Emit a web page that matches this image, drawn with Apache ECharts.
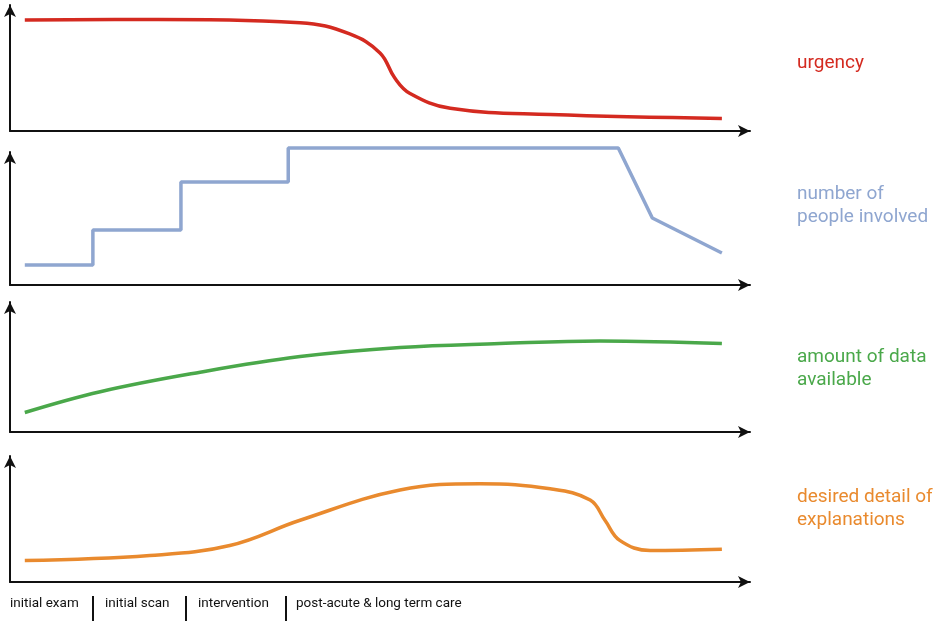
<!DOCTYPE html>
<html>
<head>
<meta charset="utf-8">
<script src="https://cdn.jsdelivr.net/npm/echarts@6/dist/echarts.min.js"></script>
<style>html,body{margin:0;padding:0;background:#fff}#main{width:944px;height:630px}</style>
</head>
<body>
<div id="main"></div>
<script>
// x positions run 0..100 along the time axis
let urgency = [[2, 88], [20, 88.5], [39.2, 86], [45.9, 77], [50, 62], [52, 42], [54, 30], [59.5, 18], [73, 13], [96.2, 10]];
let people = [[2, 16.5], [11.2, 16.5], [11.2, 45.5], [23.1, 45.5], [23.1, 85.2], [37.6, 85.2], [37.6, 113.3], [82.2, 113.3], [86.8, 55.4], [96.2, 26.5]];
let dataAvail = [[2, 15], [12.2, 31], [25.7, 46], [39.2, 58], [52.7, 65], [66.2, 68], [79.7, 70], [96.2, 68]];
let detail = [[2, 17], [18.9, 21], [29.7, 29], [39.2, 49], [52.7, 73], [63.5, 78], [73, 74], [78.4, 65], [80.4, 49], [82.4, 33], [86.5, 25], [96.2, 26]];
let seriesNames = ['urgency', 'number of\npeople involved', 'amount of data\navailable', 'desired detail of\nexplanations'];
let colors = ['#d42a20', '#8fa6d0', '#4aa84a', '#e98a2e'];
let phases = ['initial exam', 'initial scan', 'intervention', 'post-acute & long term care'];

let grids = [
    {top: 5, height: 126},
    {top: 152, height: 133},
    {top: 302, height: 130},
    {top: 456, height: 126}
];
let lines = [urgency, people, dataAvail, detail];
let labelY = [63, 206, 369, 509];
let phaseX = [10, 105, 198, 296];
let barX = [93, 186, 286];

let axisLine = {show: true, symbol: ['none', 'arrow'], symbolSize: [9, 12], lineStyle: {color: '#111', width: 2}};
let chart = echarts.init(document.getElementById('main'));
let graphic = [];
seriesNames.forEach((name, i) => {
    graphic.push({type: 'text', left: 797, top: labelY[i] - (name.indexOf('\n') >= 0 ? 23 : 11),
        style: {text: name, fill: colors[i], font: '19px Roboto', lineHeight: 23}});
});
phases.forEach((p, i) => {
    graphic.push({type: 'text', left: phaseX[i], top: 597, style: {text: p, fill: '#111', font: '13.5px Roboto'}});
});
barX.forEach((x) => {
    graphic.push({type: 'line', shape: {x1: x, y1: 596, x2: x, y2: 621}, style: {stroke: '#111', lineWidth: 2}});
});

chart.setOption({
    animation: false,
    grid: grids.map((g) => ({left: 10, right: 194, top: g.top, height: g.height})),
    xAxis: grids.map((g, i) => ({type: 'value', gridIndex: i, min: 0, max: 100, axisLine: axisLine,
        axisTick: {show: false}, axisLabel: {show: false}, splitLine: {show: false}})),
    yAxis: grids.map((g, i) => ({type: 'value', gridIndex: i, min: 0, max: i === 1 ? 110 : 100, axisLine: axisLine,
        axisTick: {show: false}, axisLabel: {show: false}, splitLine: {show: false}})),
    series: lines.map((d, i) => ({type: 'line', xAxisIndex: i, yAxisIndex: i, data: d, showSymbol: false, clip: false,
        smooth: i === 1 ? false : 0.4, lineStyle: {color: colors[i], width: 3.5}})),
    graphic: graphic
});
</script>
</body>
</html>
